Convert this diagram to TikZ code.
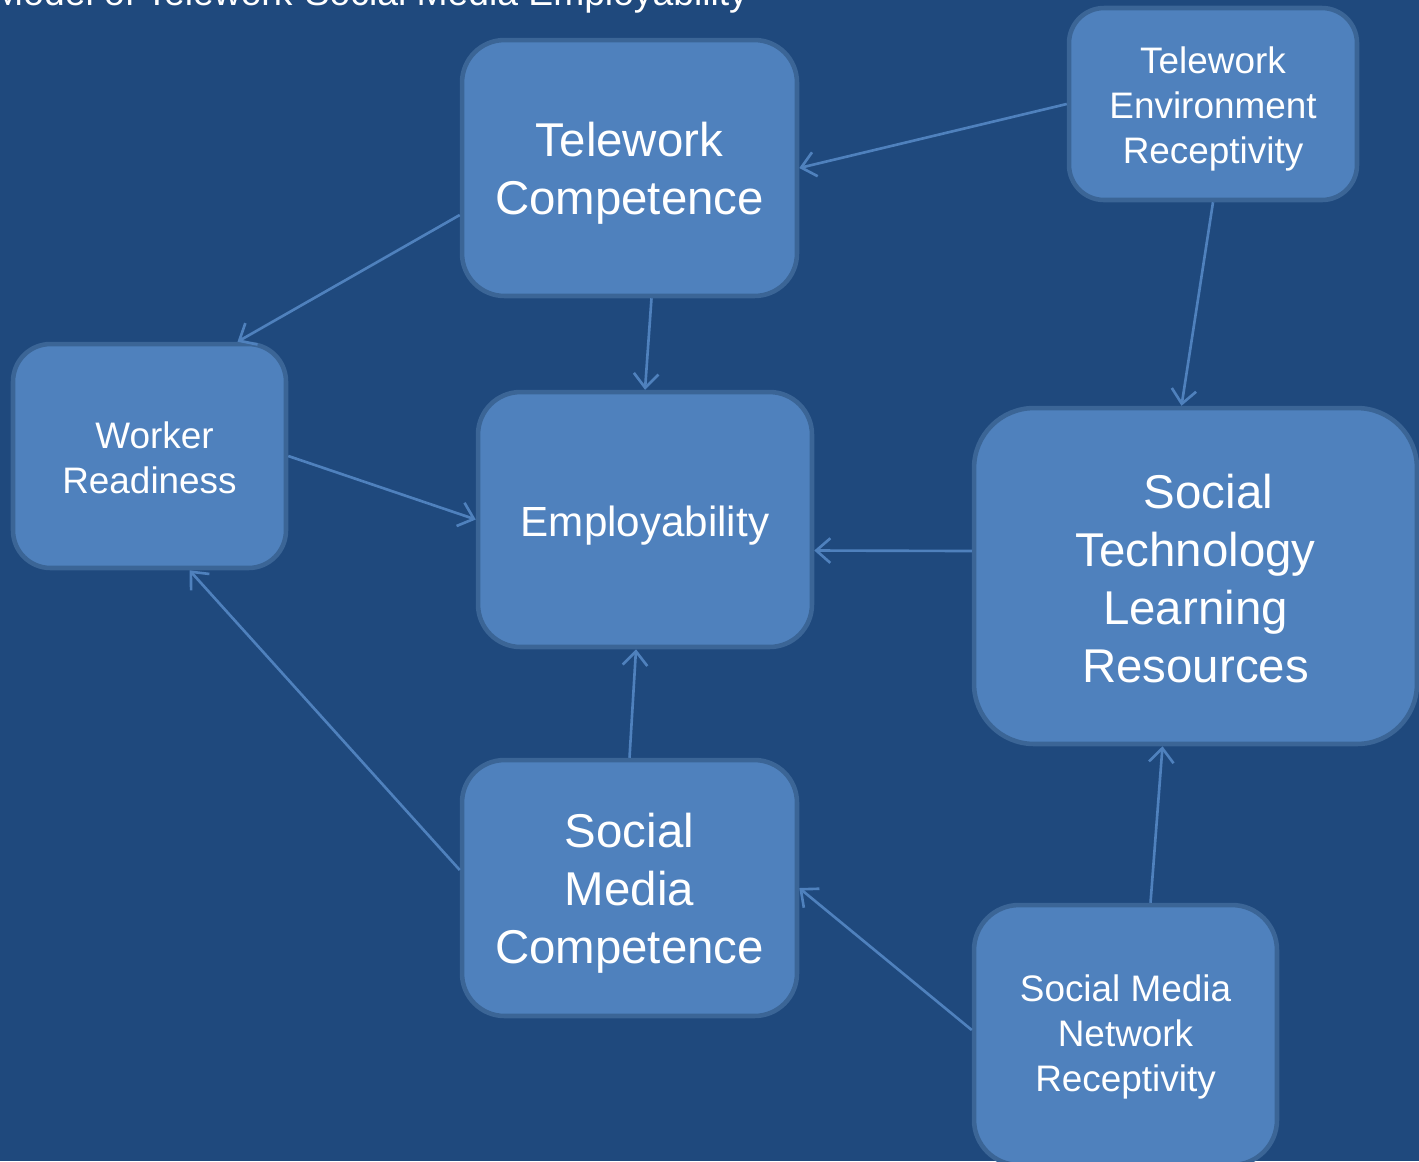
\documentclass[tikz,border=0pt]{standalone}
\usepackage{fontspec}
\setmainfont{Liberation Sans}
\usetikzlibrary{arrows.meta,calc}

\definecolor{slidebg}{HTML}{1F497D}
\definecolor{boxfill}{HTML}{4F81BD}
\definecolor{boxedge}{HTML}{3B6596}
\definecolor{linkcol}{HTML}{4F81BD}

% strut on a first line, pushes the text block down a little
\newcommand{\topgap}[1]{\rule{0pt}{#1}}

\begin{document}
\begin{tikzpicture}[x=0.02cm, y=-0.02cm,
  block/.style={draw=boxedge, fill=boxfill, line width=2.6pt, rounded corners=0.85cm,
    align=center, text=white, inner sep=0pt},
  bigtext/.style={font=\fontsize{27}{33}\selectfont},
  midtext/.style={font=\fontsize{21}{25.6}\selectfont},
  link/.style={draw=linkcol, line width=1.5pt, -{Straight Barb[length=8pt,width=14pt]}}]
  \useasboundingbox (0,0) rectangle (1419,1161);
  \fill[slidebg] (0,0) rectangle (1419,1161);

  % title line, partly off the top edge
  \node[anchor=base west, text=white, inner sep=0pt, font=\fontsize{21.2}{25}\selectfont]
    (title) at (-8,5) {Model of Telework-Social Media Employability};

  % the seven boxes
  \node[block, bigtext, minimum width=6.7cm, minimum height=5.12cm]
    (tc) at (629.5,168) {\topgap{25.4pt}Telework\\Competence};
  \node[block, midtext, minimum width=5.76cm, minimum height=3.84cm,
    rounded corners=0.7cm] (ter) at (1213,104)
    {\topgap{21pt}Telework\\Environment\\Receptivity};
  \node[block, midtext, minimum width=5.46cm, minimum height=4.48cm,
    rounded corners=0.75cm] (wr) at (149.5,456)
    {\topgap{17.6pt}\hspace*{5.8pt}Worker\\Readiness};
  \node[block, font=\fontsize{24}{29}\selectfont, minimum width=6.68cm,
    minimum height=5.1cm] (emp) at (645,519.5) {\topgap{24.3pt}Employability};
  \node[block, bigtext, minimum width=8.86cm, minimum height=6.72cm,
    rounded corners=1.2cm] (stlr) at (1195.5,576)
    {\topgap{22pt}\hspace*{0.52cm}Social\\Technology\\Learning\\Resources};
  \node[block, bigtext, minimum width=6.7cm, minimum height=5.12cm]
    (smc) at (629.5,888) {\topgap{25.4pt}Social\\Media\\Competence};
  \node[block, midtext, minimum width=6.06cm, minimum height=5.2cm,
    rounded corners=0.9cm] (smnr) at (1125.5,1035)
    {\topgap{17.6pt}Social Media\\Network\\Receptivity};

  % connectors
  \draw[link] (ter.west) -- (tc.east);
  \draw[link] (ter.south) -- ($(stlr.north)+(-14,0)$);
  \draw[link] ($(tc.west)+(0,47)$) -- ($(wr.north)+(88,0)$);
  \draw[link] ($(tc.south)+(22,0)$) -- (emp.north);
  \draw[link] (wr.east) -- (emp.west);
  \draw[link] ($(stlr.west)+(0,-25)$) -- ($(emp.east)+(0,31)$);
  \draw[link] (smc.north) -- ($(emp.south)+(-9,0)$);
  \draw[link] ($(smc.west)+(0,-18)$) -- ($(wr.south)+(40,0)$);
  \draw[link] ($(smnr.west)+(0,-5)$) -- (smc.east);
  \draw[link] ($(smnr.north)+(25,0)$) -- ($(stlr.south)+(-33,0)$);
\end{tikzpicture}
\end{document}
